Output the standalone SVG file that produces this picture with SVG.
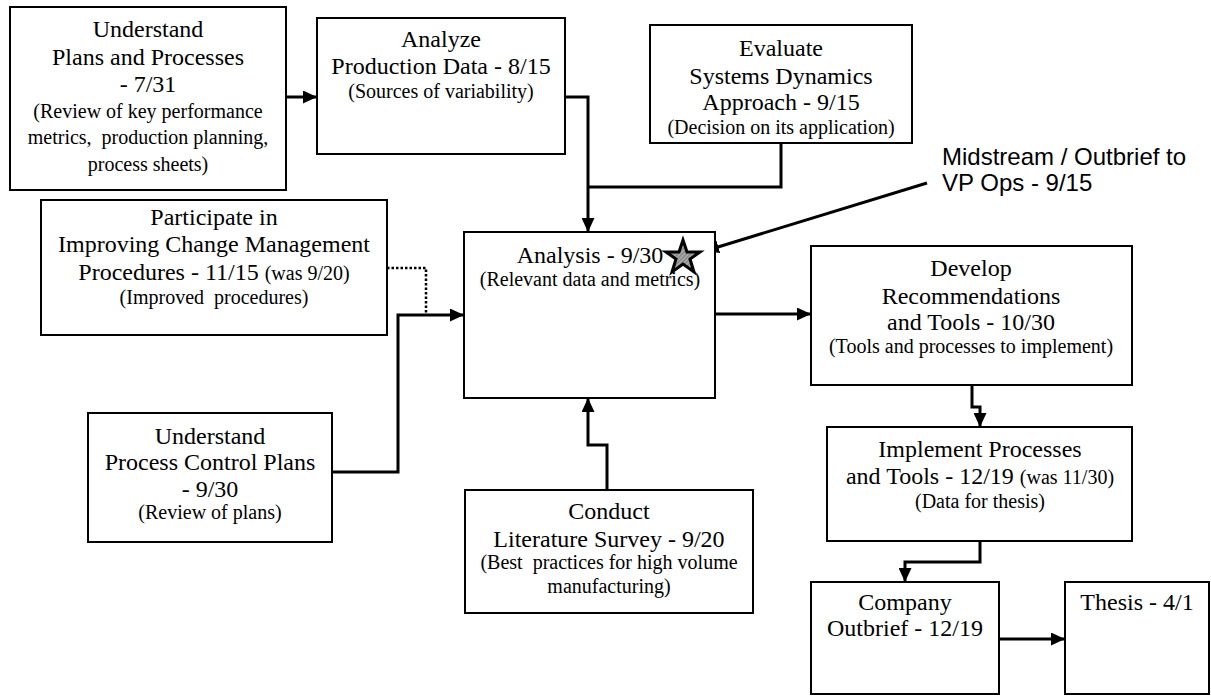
<svg xmlns="http://www.w3.org/2000/svg" width="1211" height="696" viewBox="0 0 1211 696">
  <defs>
    <style>
      .box { fill: #ffffff; stroke: #000000; stroke-width: 2; }
      .t { font-family: "Liberation Serif", "Times New Roman", serif; font-size: 24px; fill: #000000; text-anchor: middle; }
      .s { font-family: "Liberation Serif", "Times New Roman", serif; font-size: 20px; fill: #000000; text-anchor: middle; }
      .pre { white-space: pre; }
      .note { font-family: "Liberation Sans", Arial, sans-serif; font-size: 24px; fill: #000000; }
      .conn { fill: none; stroke: #000000; stroke-width: 3; }
      .dot { fill: none; stroke: #000000; stroke-width: 2.5; stroke-dasharray: 2.5 2; }
    </style>
    <marker id="arrow" viewBox="0 0 14 13" refX="14" refY="6.5" markerUnits="userSpaceOnUse" markerWidth="14" markerHeight="13" orient="auto">
      <path d="M0,0 L14,6.5 L0,13 z" fill="#000000"/>
    </marker>
    <!-- fine grey hatching for the milestone star -->
    <pattern id="hatch" width="3" height="3" patternUnits="userSpaceOnUse" patternTransform="rotate(45)">
      <rect width="3" height="3" fill="#8c8c8c"/>
      <line x1="0" y1="0" x2="0" y2="3" stroke="#d8d8d8" stroke-width="1"/>
    </pattern>
  </defs>

  <rect width="1211" height="696" fill="#ffffff"/>

  <!-- connectors -->
  <g id="connectors">
    <path class="conn" d="M286,97 H317" marker-end="url(#arrow)"/>
    <path class="conn" d="M565,97 H588 V232" marker-end="url(#arrow)"/>
    <path class="conn" d="M781,143 V187 H588"/>
    <path class="dot" d="M387,268 H426 V315"/>
    <path class="conn" d="M332,472 H398 V315 H464" marker-end="url(#arrow)"/>
    <path class="conn" d="M607,490 V445 H588 V398" marker-end="url(#arrow)"/>
    <path class="conn" d="M715,314 H811" marker-end="url(#arrow)"/>
    <path class="conn" d="M927,183 L705,251" marker-end="url(#arrow)"/>
    <path class="conn" d="M972,385 V407 H980 V427" marker-end="url(#arrow)"/>
    <path class="conn" d="M980,541 V562 H905 V582" marker-end="url(#arrow)"/>
    <path class="conn" d="M999,639 H1065" marker-end="url(#arrow)"/>
  </g>

  <g id="plans">
    <rect class="box" x="10" y="7" width="276" height="183"/>
    <text class="t" x="148" y="37">Understand</text>
    <text class="t" x="148" y="65">Plans and Processes</text>
    <text class="t" x="148" y="92">- 7/31</text>
    <text class="s" x="148" y="118">(Review of key performance</text>
    <text class="s pre" x="148" y="144">metrics,  production planning,</text>
    <text class="s" x="148" y="171">process sheets)</text>
  </g>

  <g id="production-data">
    <rect class="box" x="317" y="18" width="248" height="136"/>
    <text class="t" x="441" y="47">Analyze</text>
    <text class="t" x="441" y="74">Production Data - 8/15</text>
    <text class="s" x="441" y="98">(Sources of variability)</text>
  </g>

  <g id="systems-dynamics">
    <rect class="box" x="650" y="25" width="262" height="118"/>
    <text class="t" x="781" y="56">Evaluate</text>
    <text class="t" x="781" y="84">Systems Dynamics</text>
    <text class="t" x="781" y="110">Approach - 9/15</text>
    <text class="s" x="781" y="134">(Decision on its application)</text>
  </g>

  <g id="change-management">
    <rect class="box" x="41" y="200" width="346" height="135"/>
    <text class="t" x="214" y="225">Participate in</text>
    <text class="t" x="214" y="252">Improving Change Management</text>
    <text class="t" x="214" y="280">Procedures - 11/15 <tspan font-size="20">(was 9/20)</tspan></text>
    <text class="s pre" x="214" y="304">(Improved  procedures)</text>
  </g>

  <g id="analysis">
    <rect class="box" x="464" y="232" width="251" height="166"/>
    <text class="t" x="590" y="263">Analysis - 9/30</text>
    <text class="s" x="590" y="286">(Relevant data and metrics)</text>
  </g>

  <g id="midstream">
    <text class="note" x="942" y="165">Midstream / Outbrief to</text>
    <text class="note" x="942" y="191">VP Ops - 9/15</text>
    <polygon points="683,240 687,252 700,252 690,259 694,272 683,264 672,272 676,259 666,252 679,252" fill="url(#hatch)" stroke="#000000" stroke-width="3" stroke-linejoin="miter"/>
  </g>

  <g id="recommendations">
    <rect class="box" x="811" y="246" width="321" height="139"/>
    <text class="t" x="971" y="276">Develop</text>
    <text class="t" x="971" y="304">Recommendations</text>
    <text class="t" x="971" y="330">and Tools - 10/30</text>
    <text class="s" x="971" y="353">(Tools and processes to implement)</text>
  </g>

  <g id="control-plans">
    <rect class="box" x="88" y="413" width="244" height="129"/>
    <text class="t" x="210" y="444">Understand</text>
    <text class="t" x="210" y="470">Process Control Plans</text>
    <text class="t" x="210" y="497">- 9/30</text>
    <text class="s" x="210" y="519">(Review of plans)</text>
  </g>

  <g id="literature-survey">
    <rect class="box" x="465" y="490" width="288" height="123"/>
    <text class="t" x="609" y="519">Conduct</text>
    <text class="t" x="609" y="547">Literature Survey - 9/20</text>
    <text class="s pre" x="609" y="569">(Best  practices for high volume</text>
    <text class="s" x="609" y="593">manufacturing)</text>
  </g>

  <g id="implement">
    <rect class="box" x="827" y="427" width="305" height="114"/>
    <text class="t" x="980" y="457">Implement Processes</text>
    <text class="t" x="980" y="484">and Tools - 12/19 <tspan font-size="20">(was 11/30)</tspan></text>
    <text class="s" x="980" y="508">(Data for thesis)</text>
  </g>

  <g id="company-outbrief">
    <rect class="box" x="811" y="582" width="188" height="112"/>
    <text class="t" x="905" y="610">Company</text>
    <text class="t" x="905" y="636">Outbrief - 12/19</text>
  </g>

  <g id="thesis">
    <rect class="box" x="1065" y="582" width="144" height="112"/>
    <text class="t" x="1137" y="610">Thesis - 4/1</text>
  </g>
</svg>
